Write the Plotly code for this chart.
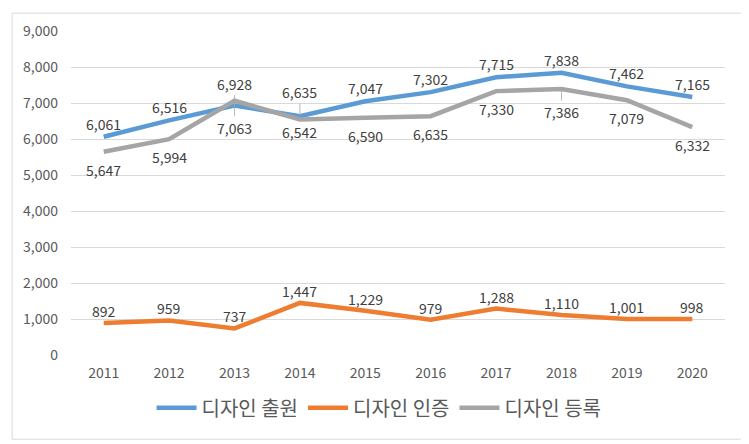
import plotly.graph_objects as go

years = [2011, 2012, 2013, 2014, 2015, 2016, 2017, 2018, 2019, 2020]
apply_vals = [6061, 6516, 6928, 6635, 7047, 7302, 7715, 7838, 7462, 7165]
cert_vals = [892, 959, 737, 1447, 1229, 979, 1288, 1110, 1001, 998]
reg_vals = [5647, 5994, 7063, 6542, 6590, 6635, 7330, 7386, 7079, 6332]
names = ["디자인 출원", "디자인 인증", "디자인 등록"]
colors = ["#5B9BD5", "#ED7D31", "#A5A5A5"]

font_main = "Noto Sans CJK KR, Malgun Gothic, sans-serif"
tick_font = dict(family="Liberation Sans Narrow, Noto Sans CJK KR, sans-serif", size=14, color="#595959")
label_color = "#404040"

fig = go.Figure()
for vals, name, col in zip([apply_vals, cert_vals, reg_vals], names, colors):
    fig.add_trace(go.Scatter(x=years, y=vals, name=name, mode="lines",
                             line=dict(color=col, width=4.5), hoverinfo="x+y"))

annotations = []


def add_label(x, v, shift, leader=False):
    lab_font = dict(family=font_main, size=14, color=label_color)
    if leader:
        annotations.append(dict(x=x, y=v, text=f"{v:,}", showarrow=True, arrowhead=0,
                                arrowwidth=0.8, arrowcolor="#A6A6A6", ax=0, ay=-shift,
                                standoff=0, font=lab_font))
    else:
        annotations.append(dict(x=x, y=v, text=f"{v:,}", showarrow=False, yshift=shift,
                                font=lab_font))


for y, v in zip(years, apply_vals):
    if y == 2013:
        add_label(y, v, 22, leader=True)
    elif y == 2014:
        add_label(y, v, 24, leader=True)
    else:
        add_label(y, v, 13)
for y, v in zip(years, cert_vals):
    add_label(y, v, 12)
for y, v in zip(years, reg_vals):
    if y == 2013:
        add_label(y, v, -27, leader=True)
    elif y == 2014:
        add_label(y, v, -13)
    elif y == 2018:
        add_label(y, v, -23, leader=True)
    else:
        add_label(y, v, -18)

fig.update_layout(
    width=741, height=436,
    margin=dict(l=63, r=24, t=20, b=89),
    paper_bgcolor="white", plot_bgcolor="white",
    showlegend=True,
    legend=dict(orientation="h", x=0.471, y=-0.163, xanchor="center", yanchor="middle",
                font=dict(family=font_main, size=20, color="#595959"),
                itemwidth=40, tracegroupgap=0),
    annotations=annotations,
    shapes=[dict(type="rect", xref="paper", yref="paper", x0=-0.09, x1=1.031, y0=-0.26, y1=1.055,
                 line=dict(color="#D9D9D9", width=1), fillcolor="rgba(0,0,0,0)", layer="below")],
    hovermode="closest",
)
fig.update_xaxes(range=[2010.5, 2020.5], tickmode="array", tickvals=years,
                 ticktext=[str(y) for y in years], showgrid=False, showline=False,
                 zeroline=False, tickfont=tick_font, ticks="", ticklabelstandoff=8)
fig.update_yaxes(range=[0, 9000], dtick=1000, tickformat=",", showgrid=True, gridcolor="#D9D9D9",
                 gridwidth=1, zeroline=False, showline=False, tickfont=tick_font, ticks="",
                 ticklabelstandoff=12)

fig.write_html("out.html")
